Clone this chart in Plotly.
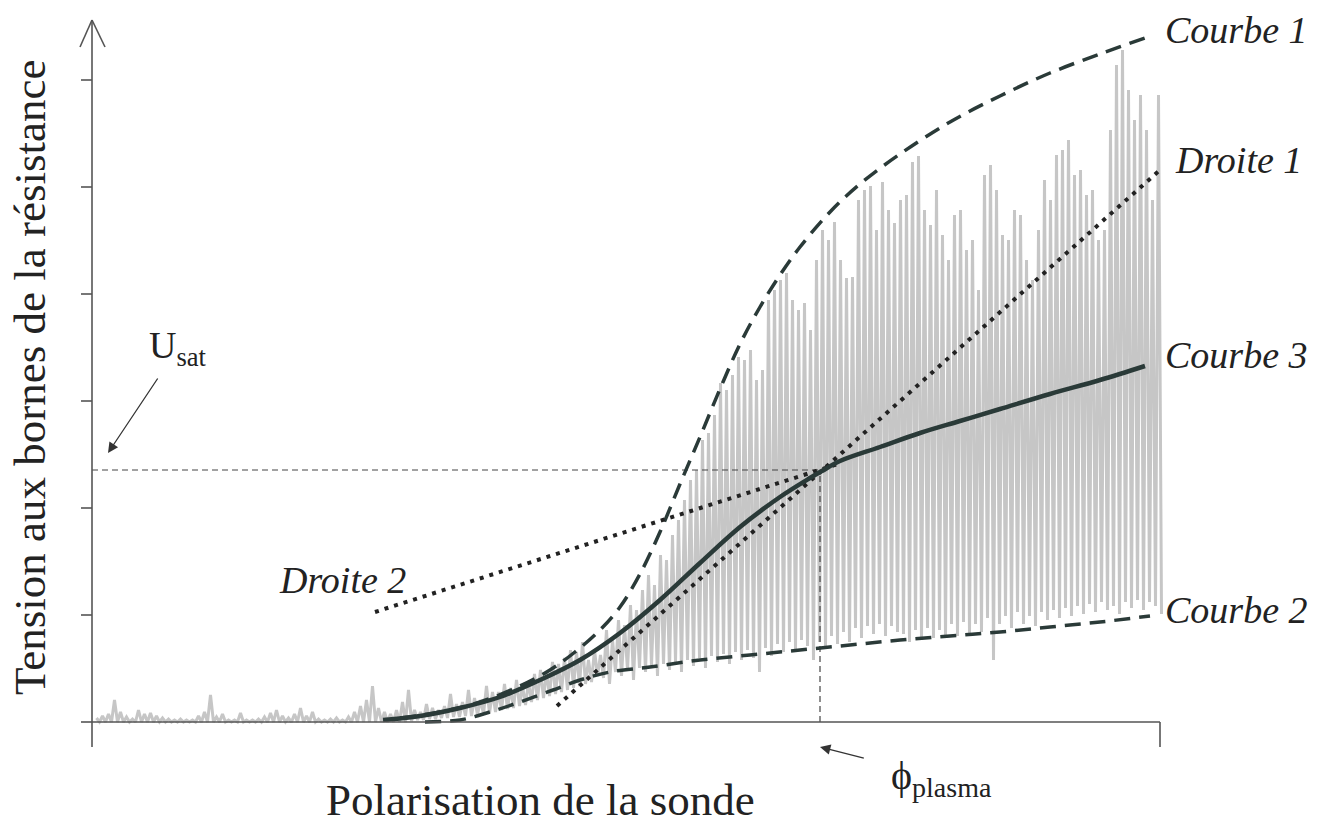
import plotly.graph_objects as go

# ---------------- data (arbitrary units: probe bias / resistor voltage) -------------
# noisy measured signal, sampled every 6 units of bias
sig_x = list(range(6, 1069, 6))
sig_top = [
    4, 6, 8, 22, 10, 5, 3, 12, 8, 9, 6, 4, 3, 2, 3, 2, 2, 6, 10, 27, 5, 8, 2, 2, 9,
    2, 2, 3, 5, 9, 12, 6, 4, 8, 14, 6, 10, 3, 2, 3, 4, 2, 5, 10, 16, 22, 36, 14,
    10, 8, 12, 20, 32, 12, 10, 18, 14, 12, 16, 28, 18, 20, 32, 24, 22, 36, 30, 30,
    38, 34, 42, 36, 40, 48, 52, 50, 60, 58, 64, 72, 70, 80,
    62, 72, 67, 92, 82, 102, 97, 117, 112, 132, 147, 137, 167, 162, 187, 202, 222,
    242, 252, 282, 289, 307, 339, 332, 347, 365, 362, 372, 342, 352, 422, 432, 442,
    449, 422, 412, 419, 392, 462, 492, 482, 500, 462, 444, 445, 522, 532, 536, 492,
    540, 512, 499, 522, 527, 560, 566, 512, 497, 532, 487, 462, 507, 512, 472, 482,
    432, 547, 557, 532, 487, 482, 512, 507, 462, 442, 492, 542, 522, 567, 572, 582,
    547, 552, 527, 532, 482, 492, 592, 657, 672, 632, 602, 627, 592, 522, 627,
]
sig_bot = [
    0, 0, 0, 0, 0, 0, 0, 0, 0, 0, 0, 0, 0, 0, 0, 0, 0, 0, 0, 0, 0, 0, 0, 0,
    0, 0, 0, 0, 0, 0, 0, 0, 0, 0, 0, 0, 0, 0, 0, 0, 0, 0, 0, 0, 0, 0, 0, 0,
    0, 0, 0, 0, 1, 2, 2, 3, 3, 4, 4, 5, 5, 6, 6, 7, 8, 9, 10, 12, 13, 14, 16, 17,
    20, 22, 24, 26, 28, 30, 32, 34, 36, 38,
    40, 46, 44, 38, 50, 46, 52, 42, 54, 50, 56, 46, 58, 52, 60, 50, 62, 56, 64, 54,
    66, 60, 68, 58, 70, 62, 72, 64, 50, 74, 66, 78, 70, 80, 72, 82, 76, 62, 80, 74,
    86, 78, 90, 80, 94, 84, 96, 88, 98, 86, 96, 90,
    88, 80, 92, 82, 94, 84, 92, 84, 98, 86, 100, 88, 98, 90, 104, 62, 98, 106, 94,
    110, 98, 106, 96, 110, 102, 112, 104, 114, 106, 116, 108, 118, 110, 120, 112,
    116, 108, 120, 114, 122, 112, 120, 116, 108,
]

# Courbe 1 (upper envelope)
c1_x = [308, 348, 388, 428, 458, 483, 508, 528, 548, 568, 588, 608, 628, 648, 668, 688,
        708, 738, 768, 808, 858, 908, 958, 1008, 1053]
c1_y = [4, 10, 20, 36, 52, 70, 92, 115, 148, 190, 238, 285, 333, 378, 415, 447,
        475, 510, 538, 568, 600, 626, 649, 668, 684]
# Courbe 2 (lower envelope)
c2_x = [333, 368, 398, 428, 461, 488, 518, 558, 608, 658, 708, 758, 808, 858, 908, 958,
        1008, 1058]
c2_y = [0, 2, 10, 20, 32, 42, 50, 55, 62, 67, 72, 77, 82, 86, 90, 95, 100, 106]
# Courbe 3 (mean characteristic)
c3_x = [291, 328, 368, 408, 448, 488, 528, 568, 608, 648, 688, 718, 730, 748, 788, 828,
        868, 908, 958, 1008, 1053]
c3_y = [2, 6, 14, 25, 42, 62, 89, 122, 159, 195, 225, 244, 251, 261, 275, 289,
        301, 313, 328, 342, 356]
# Droite 1 / Droite 2 (tangent lines)
d1_x = [465, 1068]
d1_y = [16, 552]
d2_x = [283, 746]
d2_y = [110, 258]

phi_plasma = 728   # plasma potential (bias)
u_sat = 252        # saturation voltage
y_ticks = [0, 107, 214, 321, 428, 535, 642]
x_end = 1068
y_top = 702

DARK = "#2a3a38"
AX = "#555555"
FONT = "Liberation Serif, Times New Roman, serif"

# zig-zag rendering of the noisy signal
zx, zy = [], []
for x, t, b in zip(sig_x, sig_top, sig_bot):
    zx += [x - 1.5, x + 1.5]
    zy += [t, b]

fig = go.Figure()
fig.add_trace(go.Scatter(x=zx, y=zy, mode="lines", line=dict(color="#c6c6c6", width=3),
                         hoverinfo="skip", showlegend=False))
fig.add_trace(go.Scatter(x=[0, phi_plasma], y=[u_sat, u_sat], mode="lines",
                         line=dict(color="#444444", width=1, dash="6px,4px"),
                         hoverinfo="skip", showlegend=False))
fig.add_trace(go.Scatter(x=[phi_plasma, phi_plasma], y=[0, u_sat], mode="lines",
                         line=dict(color="#444444", width=1.2, dash="6px,4px"),
                         hoverinfo="skip", showlegend=False))
fig.add_trace(go.Scatter(x=c1_x, y=c1_y, mode="lines", line_shape="spline",
                         line=dict(color=DARK, width=3.5, dash="16px,9px"), showlegend=False))
fig.add_trace(go.Scatter(x=c2_x, y=c2_y, mode="lines", line_shape="spline",
                         line=dict(color=DARK, width=3.5, dash="16px,9px"), showlegend=False))
fig.add_trace(go.Scatter(x=d1_x, y=d1_y, mode="lines",
                         line=dict(color="#222222", width=4, dash="4px,6px"), showlegend=False))
fig.add_trace(go.Scatter(x=d2_x, y=d2_y, mode="lines",
                         line=dict(color="#222222", width=4, dash="4px,6px"), showlegend=False))
fig.add_trace(go.Scatter(x=c3_x, y=c3_y, mode="lines", line_shape="spline",
                         line=dict(color=DARK, width=4.5), showlegend=False))

shapes = []
# y axis with arrow
shapes.append(dict(type="line", x0=0, x1=0, y0=-25, y1=y_top, line=dict(color=AX, width=1.6)))
shapes.append(dict(type="line", x0=0, x1=-12, y0=y_top, y1=y_top - 27, line=dict(color=AX, width=1.6)))
shapes.append(dict(type="line", x0=0, x1=13, y0=y_top, y1=y_top - 27, line=dict(color=AX, width=1.6)))
for t in y_ticks:
    shapes.append(dict(type="line", x0=-11, x1=0, y0=t, y1=t, line=dict(color=AX, width=1.6)))
# x axis
shapes.append(dict(type="line", x0=0, x1=x_end, y0=0, y1=0, line=dict(color=AX, width=1.6)))
shapes.append(dict(type="line", x0=x_end, x1=x_end, y0=0, y1=-25, line=dict(color=AX, width=1.6)))

ann = []
def label(txt, x, y, size=38):
    ann.append(dict(x=x, y=y, text=f"<i>{txt}</i>", showarrow=False, xanchor="left",
                    yanchor="middle", font=dict(family=FONT, size=size, color="#222222")))

label("Courbe 1", 1071, 692)
label("Droite 1", 1081, 562)
label("Courbe 3", 1071, 367)
label("Courbe 2", 1071, 112)
label("Droite 2", 185, 142)

# U_sat label with its arrow pointing at the dashed level line
ann.append(dict(x=16, y=269, ax=70, ay=-105, axref="pixel", ayref="pixel",
                text="U<sub>sat</sub>", showarrow=True, arrowhead=2, arrowsize=1.6,
                arrowwidth=1.3, arrowcolor="#333333", startstandoff=6,
                font=dict(family=FONT, size=38, color="#222222")))
# phi_plasma label with its arrow
ann.append(dict(x=phi_plasma, y=-25, ax=121, ay=31, axref="pixel", ayref="pixel",
                text="ϕ<sub>plasma</sub>", showarrow=True, arrowhead=2, arrowsize=1.6,
                arrowwidth=1.3, arrowcolor="#333333", startstandoff=26,
                font=dict(family=FONT, size=40, color="#222222")))
ann.append(dict(x=448, y=-78, text="Polarisation de la sonde", showarrow=False,
                xanchor="center", yanchor="middle", font=dict(family=FONT, size=45, color="#222222")))
ann.append(dict(x=-62, y=344, text="Tension aux bornes de la résistance", showarrow=False,
                textangle=-90, xanchor="center", yanchor="middle",
                font=dict(family=FONT, size=45, color="#222222")))

fig.update_layout(
    width=1326, height=830, margin=dict(l=0, r=0, t=0, b=0),
    paper_bgcolor="white", plot_bgcolor="white",
    xaxis=dict(range=[-92, 1234], visible=False, fixedrange=True),
    yaxis=dict(range=[-108, 722], visible=False, fixedrange=True),
    shapes=shapes, annotations=ann, showlegend=False,
)

fig.write_html("out.html", config={"displayModeBar": False},
               post_script="document.body.style.margin='0';document.body.style.overflow='hidden';")
